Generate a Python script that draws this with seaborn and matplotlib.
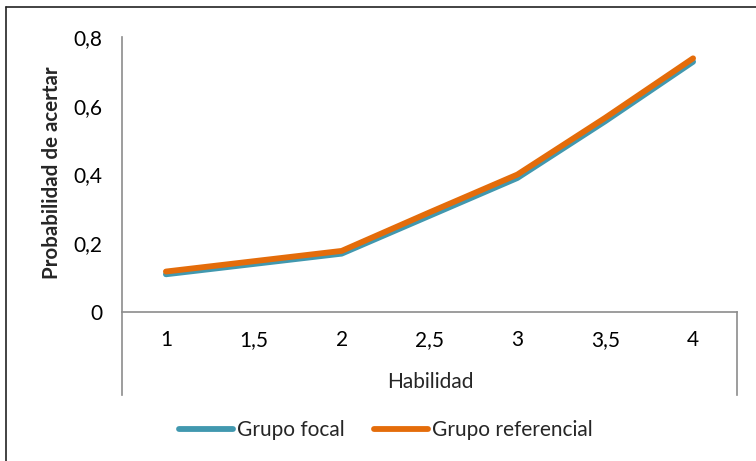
import numpy as np
import pandas as pd
import seaborn as sns
import matplotlib.pyplot as plt
from matplotlib.lines import Line2D

# Datos
habilidad = [1, 1.5, 2, 2.5, 3, 3.5, 4]
tick_labels = ['1', '1,5', '2', '2,5', '3', '3,5', '4']
grupo_focal = [0.110, 0.140, 0.170, 0.280, 0.390, 0.555, 0.728]
grupo_referencial = [0.118, 0.148, 0.178, 0.290, 0.400, 0.565, 0.738]
y_ticks = [0, 0.2, 0.4, 0.6, 0.8]
y_tick_labels = ['0', '0,2', '0,4', '0,6', '0,8']

TEAL = '#4198AF'
ORANGE = '#E46C0A'
FS = 15

sns.set_style('white')
plt.rcParams['font.family'] = ['Lato', 'DejaVu Sans']

df = pd.DataFrame({
    'Habilidad': habilidad * 2,
    'Probabilidad': grupo_focal + grupo_referencial,
    'Grupo': ['Grupo focal'] * 7 + ['Grupo referencial'] * 7,
})

fig = plt.figure(figsize=(7.56, 4.61), dpi=100)
ax = fig.add_axes([122 / 756, 1 - 395 / 461, (737 - 122) / 756, (395 - 37) / 461])

sns.lineplot(data=df, x='Habilidad', y='Probabilidad', hue='Grupo',
             palette=[TEAL, ORANGE], linewidth=4.2, ax=ax, legend=False,
             solid_capstyle='round')

# ejes al estilo Excel: eje x cruzando en 0
ax.spines['top'].set_visible(False)
ax.spines['bottom'].set_position(('data', 0))
for s in ['left', 'bottom', 'right']:
    ax.spines[s].set_color('#8c8c8c')
    ax.spines[s].set_linewidth(1.2)
ax.spines['right'].set_bounds(-0.241, 0)

ax.set_xlim(0.75, 4.25)
ax.set_ylim(-0.241, 0.8)

ax.set_yticks(y_ticks)
ax.set_yticklabels(y_tick_labels, fontsize=FS, color='black')
ax.set_xticks(habilidad)
ax.set_xticklabels(tick_labels, fontsize=FS, color='black')
ax.tick_params(axis='both', length=0)
ax.tick_params(axis='y', pad=14)
ax.tick_params(axis='x', pad=13)

ax.set_xlabel('')
ax.set_ylabel('')
fig.text(430 / 756, 1 - 382 / 461, 'Habilidad', ha='center', va='center',
         fontsize=FS)
fig.text(52 / 756, 1 - 173 / 461, 'Probabilidad de acertar', ha='center',
         va='center', rotation=90, fontsize=14.8, fontweight='bold')

handles = [Line2D([0], [0], color=TEAL, lw=4.2, solid_capstyle='round'),
           Line2D([0], [0], color=ORANGE, lw=4.2, solid_capstyle='round')]
fig.legend(handles, ['Grupo focal', 'Grupo referencial'], loc='center',
           bbox_to_anchor=(386 / 756, 1 - 430 / 461), ncol=2, frameon=False,
           fontsize=FS, handlelength=2.6, handletextpad=0.2,
           columnspacing=1.4)

# marco exterior (solo lados visibles)
fig.add_artist(Line2D([6 / 756, 6 / 756], [0, 1 - 7 / 461], color='#222222',
                      lw=1.2, transform=fig.transFigure))
fig.add_artist(Line2D([6 / 756, 1], [1 - 7 / 461, 1 - 7 / 461],
                      color='#222222', lw=1.2, transform=fig.transFigure))

fig.savefig('out.png', dpi=100)
